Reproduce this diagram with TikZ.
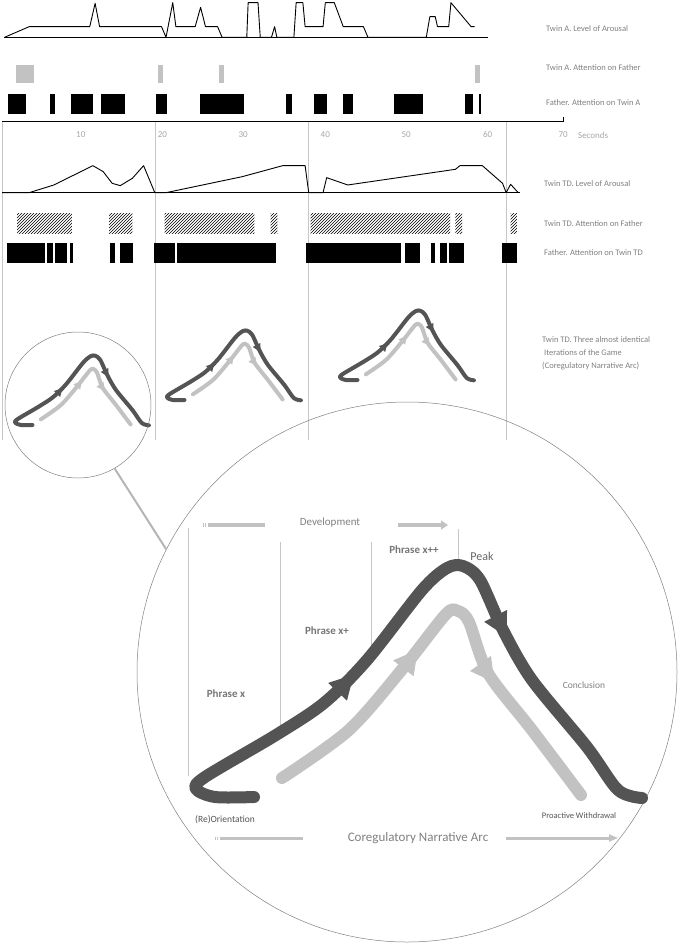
\documentclass[tikz,border=0pt]{standalone}
\usepackage{fontspec}
\setmainfont{Carlito}
\usetikzlibrary{arrows.meta,decorations.markings,patterns}
\definecolor{lbl}{gray}{0.5}
\definecolor{dk}{gray}{0.33}
\definecolor{lt}{gray}{0.76}
\definecolor{vl}{gray}{0.78}
\tikzset{
 lab/.style={anchor=west,text=lbl,font=\fontsize{8.5}{10}\selectfont,inner sep=0},
 sec/.style={text=lbl!70,font=\fontsize{9}{10}\selectfont,inner sep=0},
 vline/.style={draw=vl,line width=0.8pt},
 curve/.style={line width=0.9pt,line join=round},
 darkarc/.style={draw=dk,line cap=round,line join=round},
 lightarc/.style={draw=lt,line cap=round,line join=round},
 inlab/.style={text=dk!80,font=\bfseries\fontsize{11}{12}\selectfont,inner sep=0},
 glab/.style={text=lbl,font=\fontsize{11}{12}\selectfont,inner sep=0},
}
\newcommand\mkarc[3]{%
 \draw[darkarc,line width=#1,postaction={decorate},decoration={markings,
   mark=at position 0.36 with {\arrow[dk]{Triangle[length=#3,width=#3]}},
   mark=at position 0.70 with {\arrow[dk]{Triangle[length=#3,width=#3]}}}]
  plot[smooth,tension=0.5] coordinates {(254,797) (215,797) (196,789) (205,777) (276,735) (324,703) (367,660) (422,590) (447,568) (463,566) (480,580) (503,630) (532,680) (587,747) (618,790) (642,798)};
 \draw[lightarc,line width=#2,postaction={decorate},decoration={markings,
   mark=at position 0.40 with {\arrow[lt]{Triangle[length=#3,width=#3]}},
   mark=at position 0.70 with {\arrow[lt]{Triangle[length=#3,width=#3]}}}]
  plot[smooth,tension=0.5] coordinates {(282,778) (349,730) (404,667) (446,614) (458,611) (469,622) (488,673) (532,730) (581,795)};
}
\begin{document}
\begin{tikzpicture}[x=1pt,y=-1pt]
\useasboundingbox (0,0) rectangle (700,946);
% ---------- top section
\begin{scope}[x=0.4487pt,y=-0.3333pt]
\draw[curve] (10,112) -- (1088,112);
\draw[curve] (10,112) -- (65,80) -- (200,80) -- (212,10) -- (222,80) -- (360,80) -- (370,112) -- (385,8) -- (392,80) -- (435,80) -- (447,22) -- (458,80) -- (485,80) -- (495,112) -- (550,112) -- (553,8) -- (575,8) -- (580,112) -- (605,112) -- (612,80) -- (617,112) -- (655,112) -- (660,8) -- (675,8) -- (680,80) -- (720,80) -- (725,8) -- (745,8) -- (765,80) -- (810,80) -- (820,112) -- (950,112) -- (958,50) -- (970,50) -- (975,80) -- (1000,80) -- (1005,8) -- (1050,80) -- (1058,80);
\foreach \a/\b in {35/75,352/364,488/500,1058/1070} \fill[lt] (\a,195) rectangle (\b,250);
\foreach \a/\b in {18/58,112/123,158/207,224/278,347/372,446/543,638/650,699/728,765/786,878/942,1036/1054,1068/1073} \fill (\a,283) rectangle (\b,343);
\foreach \x in {5,347,688,1128} \draw[vline] (\x,365) -- (\x,1320);
\draw[line width=1pt] (5,365) -- (1255,365) -- (1255,350);
\foreach \x/\t in {180/10,362/20,542/30,725/40,905/50,1087/60,1255/70} \node[sec] at (\x,405) {\t};
\node[sec,anchor=west] at (1288,405) {Seconds};
% TD arousal
\draw[curve] (5,578) -- (1160,578);
\draw[curve] (5,578) -- (65,578) -- (120,555) -- (207,497) -- (230,515) -- (250,550) -- (268,557) -- (295,535) -- (320,497) -- (345,578) -- (370,578) -- (540,530) -- (630,497) -- (680,497) -- (688,578) -- (720,578) -- (728,533) -- (775,555) -- (1015,508) -- (1025,497) -- (1075,497) -- (1120,550) -- (1128,578) -- (1138,553) -- (1155,578);
\foreach \a/\b in {38/160,243/295,367/522,522/567,603/618,692/1003,1015/1030,1138/1152} \fill[pattern=north east lines] (\a,640) rectangle (\b,700);
\foreach \a/\b in {15/100,105/118,123/150,155/163,245/257,268/297,343/390,394/615,682/893,903/935,960/970,980/997,1000/1033,1118/1152} \fill (\a,728) rectangle (\b,790);
\end{scope}
\node[lab] at (546,29) {Twin A. Level of Arousal};
\node[lab] at (546,68) {Twin A. Attention on Father};
\node[lab] at (546,103) {Father. Attention on Twin A};
\node[lab] at (544,184) {Twin TD. Level of Arousal};
\node[lab] at (544,224) {Twin TD. Attention on Father};
\node[lab] at (544,253) {Father. Attention on Twin TD};
\node[lab] at (542,340) {Twin TD. Three almost identical};
\node[lab] at (544,353) {Iterations of the Game};
\node[lab] at (542,366) {(Coregulatory Narrative Arc)};
% ---------- small arcs
\begin{scope}[shift={(94,356)},scale=0.3,shift={(-459,-567)}] \mkarc{4pt}{4pt}{8pt} \end{scope}
\begin{scope}[shift={(246,331)},scale=0.3,shift={(-459,-567)}] \mkarc{4pt}{4pt}{8pt} \end{scope}
\begin{scope}[shift={(419,311)},scale=0.3,shift={(-459,-567)}] \mkarc{4pt}{4pt}{8pt} \end{scope}
% ---------- circles
\node[draw=lbl,line width=0.5pt,circle,minimum size=146pt,inner sep=0] (sc) at (78,405) {};
\node[draw=lbl,line width=0.5pt,circle,minimum size=540pt,inner sep=0] (bc) at (407,672) {};
\draw[lt!80!gray,line width=2pt] (sc.-60) -- (bc.153);
% ---------- big arc
\draw[vline,line width=0.6pt] (188,528) -- (188,776);
\draw[vline,line width=0.6pt] (280,542) -- (280,730);
\draw[vline,line width=0.6pt] (371,542) -- (371,662);
\draw[vline,line width=0.6pt] (458,529) -- (458,562);
\mkarc{12pt}{12pt}{24pt}
\node[glab] (dev) at (330,523) {Development};
\node[inlab] at (414,550) {Phrase x++};
\node[glab,text=dk!90,font=\fontsize{12}{13}\selectfont] at (482,556) {Peak};
\node[inlab] at (327,631) {Phrase x+};
\node[inlab] at (226,694) {Phrase x};
\node[glab,font=\fontsize{9.5}{11}\selectfont] at (584,685) {Conclusion};
\node[glab,font=\fontsize{9.5}{11}\selectfont,text=dk] at (225,820) {(Re)Orientation};
\node[glab,font=\fontsize{8.5}{10}\selectfont,text=dk] at (579,816) {Proactive Withdrawal};
\node[glab,font=\fontsize{13}{14}\selectfont] (cna) at (418,838) {Coregulatory Narrative Arc};
\coordinate (d1) at (203,525); \coordinate (d2) at (265,525);
\coordinate (d3) at (398,525); \coordinate (d4) at (448,525);
\draw[lt,line width=4pt,dash pattern=on 1pt off 1pt on 1pt off 2pt on 60pt] (d1) -- (d2);
\draw[lt,line width=4pt,-{Triangle[length=7pt,width=9pt]}] (d3) -- (d4);
\coordinate (c1) at (215,838); \coordinate (c2) at (303,838);
\coordinate (c3) at (506,838); \coordinate (c4) at (618,838);
\draw[lt,line width=3pt,dash pattern=on 1pt off 1pt on 1pt off 2pt on 90pt] (c1) -- (c2);
\draw[lt,line width=3pt,-{Triangle[length=9pt,width=7pt]}] (c3) -- (c4);
\end{tikzpicture}
\end{document}
